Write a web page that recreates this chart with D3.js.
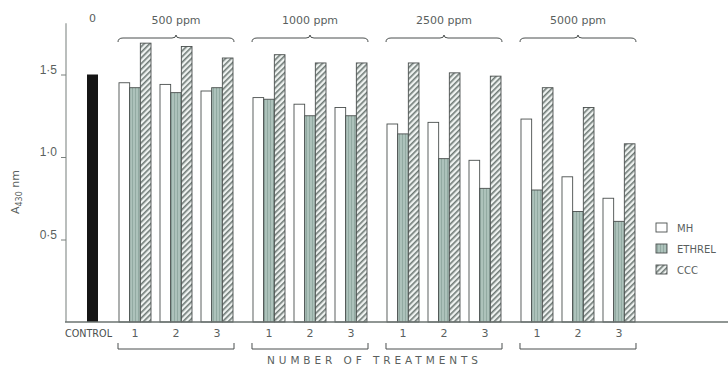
<!DOCTYPE html>
<html><head><meta charset="utf-8">
<script src="https://cdn.jsdelivr.net/npm/d3@7"></script>
<style>
html,body{margin:0;padding:0;background:#fff;}
svg{display:block;font-family:"DejaVu Sans",sans-serif;}
</style></head>
<body>
<svg id="c" width="728" height="370"></svg>
<script>
const doses = ["500 ppm","1000 ppm","2500 ppm","5000 ppm"];
const treatments = ["1","2","3"];
const series = ["MH","ETHREL","CCC"];
const controlValue = 1.50;
// values per dose, per treatment
const mhValues     = [[1.45,1.44,1.40],[1.36,1.32,1.30],[1.20,1.21,0.98],[1.23,0.88,0.75]];
const ethrelValues = [[1.42,1.39,1.42],[1.35,1.25,1.25],[1.14,0.99,0.81],[0.80,0.67,0.61]];
const cccValues    = [[1.69,1.67,1.60],[1.62,1.57,1.57],[1.57,1.51,1.49],[1.42,1.30,1.08]];
const yTicks = [0.5,1.0,1.5];

const svg = d3.select("#c");
const ink = "#4a4f4e";
const txt = "#5a5f5e";

const y = d3.scaleLinear().domain([0,1.5]).range([322,74.5]);
const xDose = d3.scaleBand().domain(doses).range([119,644]).paddingInner(0.082).paddingOuter(0);
const xTreat = d3.scaleBand().domain(treatments).range([0, xDose.bandwidth()]);
const xSer = d3.scaleBand().domain(series).range([0,32]);
const xCtrl = d3.scaleBand().domain(["CONTROL"]).range([87,98]);

// patterns
const defs = svg.append("defs");
const pE = defs.append("pattern").attr("id","ethrel").attr("patternUnits","userSpaceOnUse")
  .attr("width",3).attr("height",4);
pE.append("rect").attr("width",3).attr("height",4).attr("fill","#adc2bb");
pE.append("rect").attr("x",0).attr("width",1).attr("height",4).attr("fill","#92aaa2");
const pC = defs.append("pattern").attr("id","ccc").attr("patternUnits","userSpaceOnUse")
  .attr("width",4).attr("height",4).attr("patternTransform","rotate(45)");
pC.append("rect").attr("width",4).attr("height",4).attr("fill","#eef2f0");
pC.append("rect").attr("x",0).attr("width",1.6).attr("height",4).attr("fill","#6f7a76");
const fills = {MH:"#ffffff", ETHREL:"url(#ethrel)", CCC:"url(#ccc)"};

// axis
svg.append("line").attr("x1",66).attr("x2",66).attr("y1",y(1.81)).attr("y2",y(0))
  .attr("stroke","#8c9390").attr("stroke-width",1.2);
const ax = svg.append("g").attr("transform","translate(66,0)")
  .call(d3.axisLeft(y).tickValues(yTicks).tickSize(5).tickPadding(4)
    .tickFormat(d => d3.format(".1f")(d).replace(".","·")));
ax.select(".domain").remove();
ax.selectAll("line").attr("stroke","#7a817e");
ax.selectAll("text").attr("fill",txt).attr("font-size",12).attr("dy","-0.1em");

// y label
const yl = svg.append("text").attr("transform","translate(19,192) rotate(-90)")
  .attr("text-anchor","middle").attr("fill",txt).attr("font-size",11);
yl.append("tspan").text("A");
yl.append("tspan").attr("font-size",8).attr("dy",3).text("430");
yl.append("tspan").attr("dy",-3).text(" nm");

// control bar
svg.append("rect").attr("x",xCtrl("CONTROL")).attr("width",xCtrl.bandwidth())
  .attr("y",y(controlValue)).attr("height",y(0)-y(controlValue)).attr("fill","#151515");

// treatment bars
const data = [];
doses.forEach((d,i)=>treatments.forEach((t,j)=>{
  data.push({d,t,s:"MH",v:mhValues[i][j]});
  data.push({d,t,s:"ETHREL",v:ethrelValues[i][j]});
  data.push({d,t,s:"CCC",v:cccValues[i][j]});
}));
svg.append("g").selectAll("rect").data(data).join("rect")
  .attr("x",e=>xDose(e.d)+xTreat(e.t)+xSer(e.s))
  .attr("width",xSer.bandwidth())
  .attr("y",e=>y(e.v)).attr("height",e=>y(0)-y(e.v))
  .attr("fill",e=>fills[e.s]).attr("stroke",ink).attr("stroke-width",0.9);

// baseline
svg.append("line").attr("x1",65).attr("x2",728).attr("y1",y(0)).attr("y2",y(0))
  .attr("stroke","#6b7370").attr("stroke-width",1.3);

// top labels and braces
svg.append("text").attr("x",xCtrl("CONTROL")+xCtrl.bandwidth()/2).attr("y",22)
  .attr("text-anchor","middle").attr("fill",txt).attr("font-size",11).text("0");
const braceY = 38;
doses.forEach(d=>{
  const x0 = xDose(d)-1, x1 = xDose(d)+xTreat("3")+32+1, m=(x0+x1)/2;
  svg.append("text").attr("x",m).attr("y",24).attr("text-anchor","middle")
    .attr("fill",txt).attr("font-size",11).text(d);
  svg.append("path").attr("fill","none").attr("stroke",ink).attr("stroke-width",1)
    .attr("d",`M${x0},${braceY+4} Q${x0},${braceY} ${x0+5},${braceY} L${m-4},${braceY} Q${m},${braceY} ${m},${braceY-3} Q${m},${braceY} ${m+4},${braceY} L${x1-5},${braceY} Q${x1},${braceY} ${x1},${braceY+4}`);
  // bottom bracket
  const by = 349;
  svg.append("path").attr("fill","none").attr("stroke",ink).attr("stroke-width",1)
    .attr("d",`M${x0},${by-6} L${x0},${by} L${x1},${by} L${x1},${by-6}`);
  treatments.forEach(t=>{
    svg.append("text").attr("x",xDose(d)+xTreat(t)+16).attr("y",337)
      .attr("text-anchor","middle").attr("fill",txt).attr("font-size",11).text(t);
  });
});

svg.append("text").attr("x",65).attr("y",337).attr("fill",ink).attr("font-size",10)
  .attr("textLength",47).attr("lengthAdjust","spacingAndGlyphs").text("CONTROL");
svg.append("text").attr("x",267).attr("y",364).attr("fill",txt).attr("font-size",10.5)
  .attr("textLength",211).attr("lengthAdjust","spacing").text("NUMBER OF TREATMENTS");

// legend
const lg = svg.append("g");
series.forEach((s,i)=>{
  const cy = 228 + i*21;
  lg.append("rect").attr("x",656).attr("y",cy-5).attr("width",11).attr("height",9)
    .attr("fill",fills[s]).attr("stroke",ink).attr("stroke-width",0.9);
  lg.append("text").attr("x",677).attr("y",cy+4).attr("fill",txt).attr("font-size",10).text(s);
});
</script>
</body></html>
